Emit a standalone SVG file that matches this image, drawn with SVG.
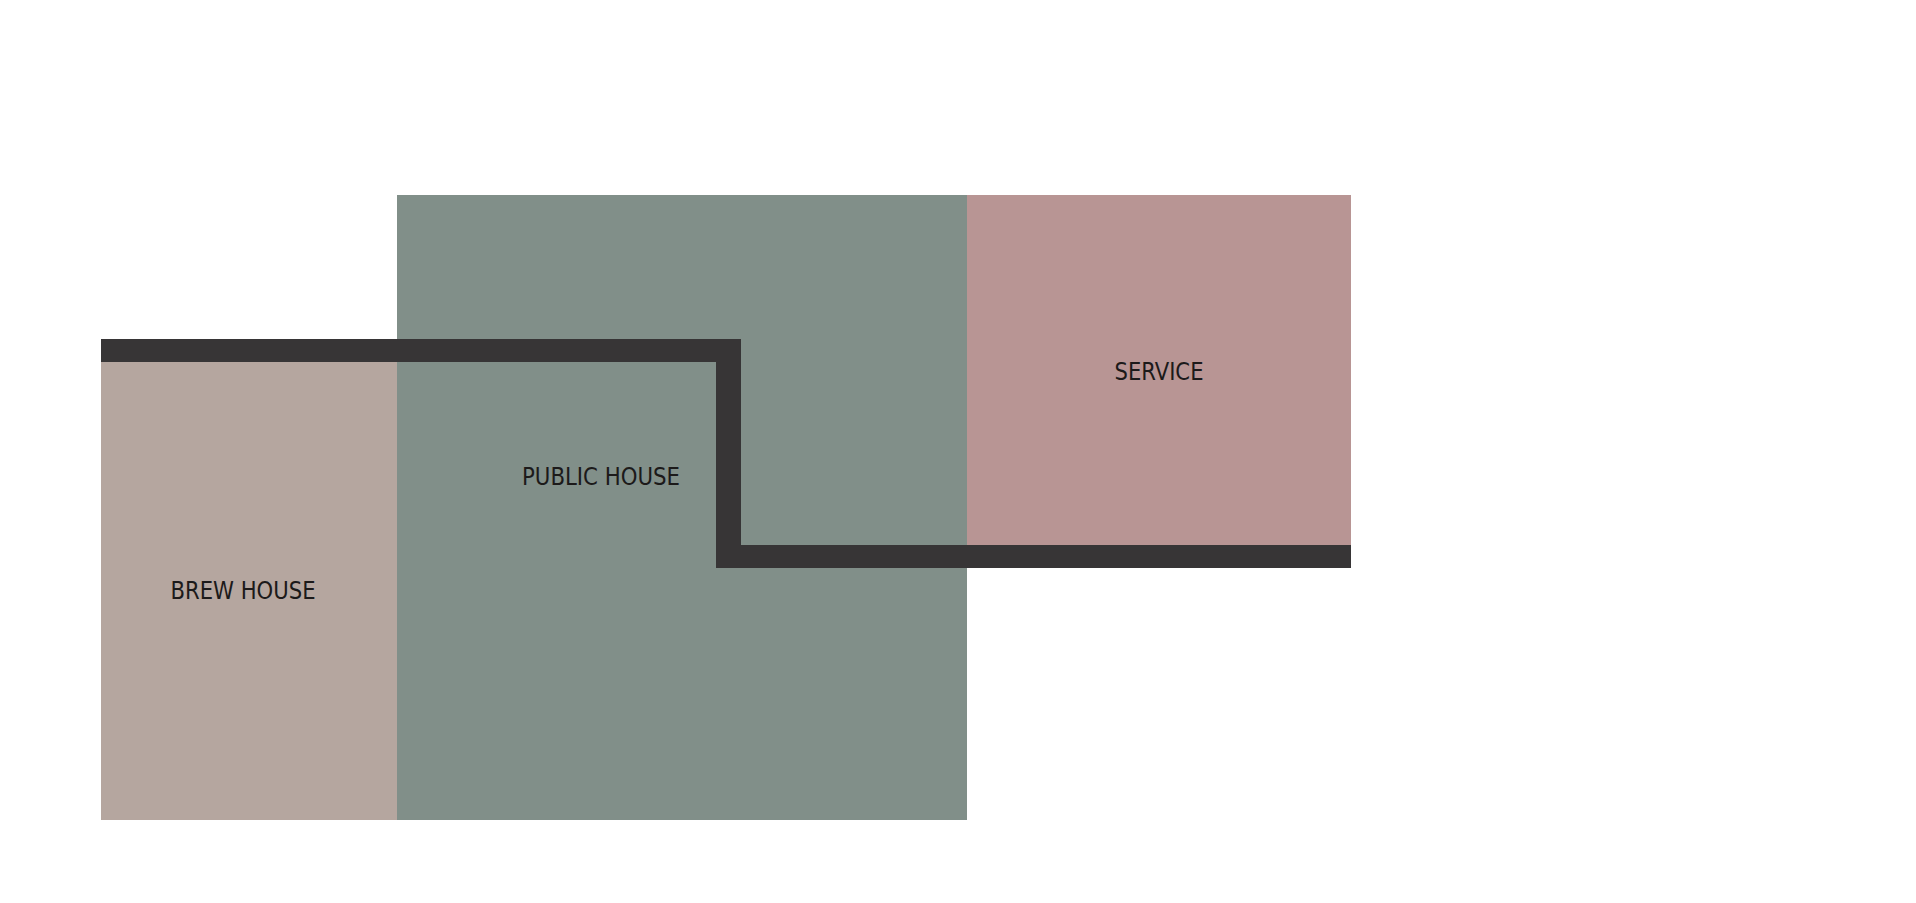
<svg xmlns="http://www.w3.org/2000/svg" width="1916" height="903" viewBox="0 0 1916 903">
<style>
.lbl{font-family:"DejaVu Sans Condensed","DejaVu Sans",sans-serif;font-stretch:condensed;font-size:25px;fill:#1c1a1a;text-anchor:middle;font-weight:200}
</style>
<rect width="1916" height="903" fill="#ffffff"/>
<g id="public-house">
<rect x="397" y="195" width="570" height="625" fill="#818f89"/>
<text class="lbl" x="601" y="485" textLength="158" lengthAdjust="spacingAndGlyphs">PUBLIC HOUSE</text>
</g>
<g id="brew-house">
<rect x="101" y="339" width="296" height="481" fill="#b5a69f"/>
<text class="lbl" x="243" y="599" textLength="145" lengthAdjust="spacingAndGlyphs">BREW HOUSE</text>
</g>
<g id="service">
<rect x="967" y="195" width="384" height="352" fill="#b89594"/>
<text class="lbl" x="1159" y="380" textLength="89" lengthAdjust="spacingAndGlyphs">SERVICE</text>
</g>
<g id="connectors">
<path d="M101 339 H741 V545 H1351 V568 H716 V362 H101 Z" fill="#373536"/>
</g>
</svg>
